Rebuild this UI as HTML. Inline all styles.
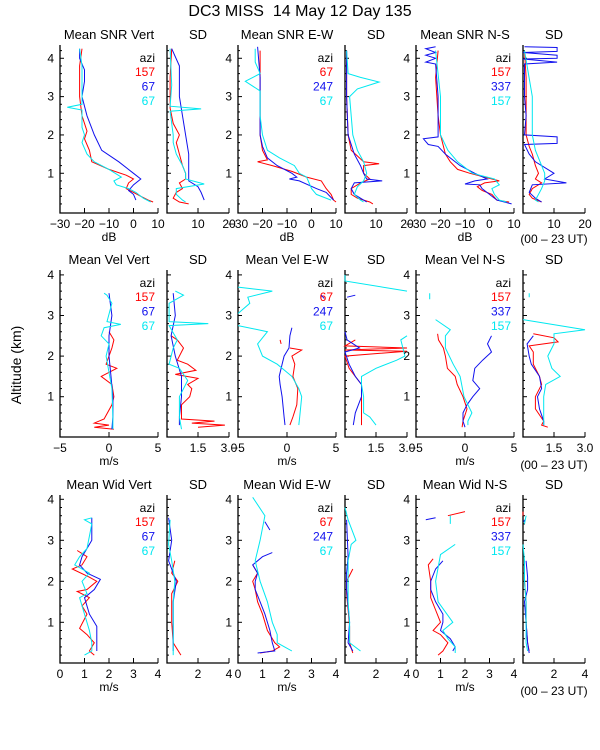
<!DOCTYPE html>
<html><head><meta charset="utf-8"><style>
html,body{margin:0;padding:0;background:#fff;}
svg{display:block;font-family:"Liberation Sans",sans-serif;}
#main-title{white-space:pre;}
</style></head><body>
<svg id="chart" width="600" height="750" viewBox="0 0 600 750">
<rect x="0" y="0" width="600" height="750" fill="#fff"/>
<text id="main-title" x="300" y="16" font-size="16" text-anchor="middle" xml:space="preserve">DC3 MISS  14 May 12 Day 135</text>
<text x="0" y="0" font-size="14" text-anchor="middle" transform="translate(21,365) rotate(-90)">Altitude (km)</text>
</svg>
<script>
// ---- data: [altitude km, value]; null breaks the line ----
const snrVertRed=[[4.25,-21],[3.8,-22],[3.0,-22],[2.5,-21],[2.1,-19],[1.9,-20],[1.6,-18],[1.3,-17],[1.1,-10],[0.95,-3],[0.85,0],[0.75,-2],[0.6,-3],[0.5,0],[0.4,3],[0.3,6],[0.25,8]];
const snrVertBlue=[[4.25,-22],[4.0,-22],[3.7,-20],[3.4,-20],[3.0,-21],[2.5,-19],[2.0,-16],[1.6,-13],[1.3,-6],[1.0,0],[0.85,3],[0.7,0],[0.55,-2],[0.45,0],[0.3,1]];
const snrVertCyan=[[4.25,-22],[3.8,-21],[3.2,-21],[2.8,-21],[2.72,-27],[2.65,-21],[2.2,-21],[2.0,-20],[1.8,-21],[1.5,-19],[1.3,-16],[1.1,-10],[0.9,-5],[0.8,-8],[0.7,-7],[0.6,-2],[0.5,1],[0.35,4],[0.25,7]];
const snrVertSdRed=[[4.25,1.5],[3.5,1],[2.7,1],[2.3,2],[2.0,4],[1.8,3],[1.5,4],[1.2,5],[1.0,6],[0.85,6],[0.75,4],[0.6,5],[0.5,3],[0.35,2],[0.25,4],[0.2,7]];
const snrVertSdBlue=[[4.25,1.5],[3.8,4],[3.0,4],[2.5,5],[2.0,6],[1.5,7],[1.0,7],[0.8,7],[0.65,10],[0.5,11],[0.3,12]];
const snrVertSdCyan=[[4.25,1],[3.3,1.5],[2.75,1],[2.68,11],[2.62,1],[2.0,2],[1.8,2],[1.5,3],[1.2,5],[1.0,6],[0.85,6],[0.72,12],[0.6,3],[0.45,3],[0.3,5],[0.25,6]];
const snrEwRed=[[4.2,-21],[3.5,-21],[2.5,-21],[2.0,-21],[1.6,-20],[1.35,-18],[1.3,-22],[1.2,-16],[1.05,-8],[0.9,-2],[0.8,4],[0.6,6],[0.45,8],[0.3,9],[0.25,10]];
const snrEwBlue=[[4.3,-22],[3.5,-21],[2.5,-21],[2.0,-21],[1.7,-20],[1.4,-18],[1.2,-14],[1.0,-8],[0.9,-6],[0.85,-9],[0.8,-5],[0.6,2],[0.5,6],[0.3,9]];
const snrEwCyan=[[4.25,-23],[3.9,-23],[3.6,-21],[3.4,-27],[3.15,-21],[2.5,-21],[2.0,-20],[1.6,-18],[1.4,-13],[1.2,-7],[1.0,-5],[0.9,-2],[0.6,0],[0.45,2],[0.3,8]];
const snrEwSdRed=[[4.2,0.5],[3.0,0.5],[2.0,1],[1.6,2],[1.3,6],[1.25,11],[1.2,6],[1.0,6],[0.85,8],[0.75,5],[0.6,2],[0.45,2],[0.35,4],[0.25,8],[0.2,9]];
const snrEwSdBlue=[[4.2,0.5],[3.0,0.5],[2.0,1],[1.5,3],[1.2,5],[1.0,6],[0.85,7],[0.8,12],[0.75,3],[0.6,2],[0.45,3],[0.3,6],[0.25,7]];
const snrEwSdCyan=[[4.2,0.5],[3.6,1],[3.5,5],[3.38,11],[3.2,4],[3.0,1.5],[2.5,2],[2.0,2.5],[1.6,4],[1.3,6],[1.0,7],[0.8,6],[0.65,4],[0.45,3],[0.3,5],[0.25,6]];
const snrNsRed=[[4.2,-21],[3.5,-22],[2.5,-21],[2.0,-20],[1.5,-18],[1.3,-16],[1.1,-13],[1.0,-8],[0.9,-2],[0.8,4],[0.75,-2],[0.65,-5],[0.55,-3],[0.45,1],[0.3,3],[0.25,8]];
const snrNsBlue=[[4.3,-22],[4.25,-26],[4.15,-22],[4.08,-26],[4.0,-22],[3.9,-26],[3.85,-22],[3.0,-21],[2.2,-21],[1.95,-21],[1.9,-27],[1.75,-25],[1.7,-21],[1.5,-18],[1.2,-12],[1.0,-6],[0.85,-1],[0.8,-6],[0.72,-10],[0.7,-4],[0.6,-3],[0.45,0],[0.3,3],[0.2,9]];
const snrNsCyan=[[4.2,-22],[3.0,-20],[2.0,-20],[1.6,-17],[1.3,-13],[1.0,-7],[0.85,2],[0.7,4],[0.6,1],[0.45,2],[0.3,4],[0.25,7]];
const snrNsSdRed=[[4.2,0.5],[3.5,1],[2.5,1],[2.0,1],[1.7,2],[1.5,3],[1.2,4],[1.0,5],[0.85,4],[0.75,6],[0.6,3],[0.45,2],[0.35,3],[0.25,6]];
const snrNsSdBlue=[[4.3,0.5],[4.28,11],[4.18,11],[4.15,0],[4.08,11],[4.0,11],[3.98,0],[3.9,11],[3.85,0.5],[3.0,0.5],[2.5,1],[2.0,0.5],[1.95,11],[1.78,11],[1.75,0.5],[1.5,2],[1.3,4],[1.1,8],[1.0,10],[0.85,7],[0.75,14],[0.7,3],[0.5,2],[0.35,4],[0.25,6]];
const snrNsSdCyan=[[4.2,0.5],[3.0,3],[2.0,3],[1.6,4],[1.2,6],[1.0,7],[0.8,7],[0.6,6],[0.45,5],[0.3,4],[0.25,5]];

const velVertRed=[[2.6,0],[2.4,0.5],[2.2,0.3],[2.0,0],[1.8,-0.3],[1.7,0.8],[1.5,-0.8],[1.3,0.3],[1.0,0.5],[0.8,0.3],[0.45,-0.5],[0.35,-1.5],[0.3,0],[0.25,-1.5],[0.2,0.5]];
const velVertBlue=[[3.55,0],[3.0,0.3],[2.5,0],[2.0,0],[1.5,0.2],[1.0,0.4],[0.5,0.4],[0.2,0.3]];
const velVertCyan=[[3.55,-0.5],[3.5,-0.2],[3.3,0.3],[2.85,-0.2],[2.78,1.2],[2.7,-0.5],[2.5,-0.8],[2.3,0],[2.0,-0.3],[1.6,0],[1.2,0.3],[0.5,0.4],[0.2,0.4]];
const velVertSdRed=[[2.5,0.2],[2.4,0.5],[2.2,0.8],[1.9,0.5],[1.8,1.0],[1.65,1.4],[1.55,0.4],[1.45,1.5],[1.3,1.0],[1.2,1.2],[1.0,1.1],[0.8,0.7],[0.45,0.7],[0.4,2.3],[0.35,1.2],[0.3,2.8],[0.25,1.5]];
const velVertSdBlue=[[3.55,0.3],[3.0,0.4],[2.5,0.2],[2.0,0.4],[1.5,0.7],[1.2,0.7],[1.0,0.7],[0.5,0.6],[0.3,0.6]];
const velVertSdCyan=[[3.6,0.4],[3.5,0.8],[3.3,0.1],[2.85,0.1],[2.8,2.0],[2.75,0.1],[2.4,0.5],[2.2,0.3],[1.8,0.1],[1.7,0.6],[1.4,1.0],[1.0,0.6],[0.5,0.6],[0.2,0.7]];
const velEwRed=[[2.4,-0.7],[2.3,-0.6],null,[2.2,0.3],[2.15,1.5],[2.0,0.5],[1.8,0.8],[1.5,0.6],[1.2,1.1],[0.8,1.0],[0.5,0.6],[0.3,0.3]];
const velEwBlue=[[3.5,3.5],[3.42,3.8],null,[2.7,0.5],[2.5,0.3],[2.2,0.2],[2.0,-0.3],[1.8,-0.5],[1.5,-0.8],[1.3,-0.7],[1.0,-0.5],[0.5,-0.3],[0.3,-0.2]];
const velEwCyan=[[3.7,-5],[3.6,-1.5],[3.45,-4],[3.3,-3.8],[3.05,-5],null,[2.75,-5],[2.6,-2],[2.3,-3],[2.0,-2.5],[1.8,-1],[1.5,0.5],[1.2,1.2],[1.0,1.5],[0.5,1.3],[0.3,1.2]];
const velEwSdRed=[[2.4,0.5],[2.25,0],[2.2,3.0],[2.15,0],[2.12,3.0],[2.0,0],[1.7,0.2],[1.5,0.5],[1.3,0.8],[1.0,0.8],[0.6,0.8],[0.4,0.8],[0.3,0.8]];
const velEwSdBlue=[[3.5,0.5],[3.45,0.1],null,[2.6,0],[2.4,0.1],[2.2,0.7],[2.1,0.0],[1.8,0.2],[1.5,0.5],[1.3,0.8],[1.0,0.8],[0.6,0.5],[0.3,0.4]];
const velEwSdCyan=[[4.0,0],[3.85,0],[3.6,3.0],null,[2.5,3.0],[2.4,2.7],[2.2,2.8],[2.0,2.9],[1.9,2.5],[1.7,1.5],[1.5,0.8],[1.3,0.8],[1.0,0.9],[0.6,0.9],[0.5,1.2],[0.3,1.5]];
const velNsRed=[[2.55,-2.8],[2.4,-2.7],[2.2,-2.2],[2.0,-2.0],[1.7,-1.8],[1.5,-1.0],[1.3,-0.8],[1.0,-0.2],[0.7,0.2],[0.4,-0.2],[0.25,-0.3]];
const velNsBlue=[[2.5,2.7],[2.3,2.3],[2.1,2.7],[1.9,1.8],[1.7,1.0],[1.4,0.8],[1.2,1.5],[1.0,0.8],[0.8,0.2],[0.6,-0.2],[0.4,-0.2],[0.25,0]];
const velNsCyan=[[3.55,-3.6],[3.4,-3.6],null,[2.9,-3.0],[2.65,-1.5],[2.5,-2.0],[2.2,-2.0],[1.8,-1.2],[1.5,-0.5],[1.0,-0.1],[0.6,0.7],[0.4,0.3],[0.3,0.3]];
const velNsSdRed=[[2.55,0.5],[2.45,1.5],[2.35,1.7],[2.25,0.3],[2.1,0.5],[1.8,0.5],[1.5,0.8],[1.3,0.9],[1.0,0.6],[0.7,0.6],[0.4,1.0],[0.3,0.9],[0.25,1.2]];
const velNsSdBlue=[[2.5,0.5],[2.3,0.2],[2.0,0.3],[1.8,0.4],[1.5,0.8],[1.2,0.9],[1.0,0.7],[0.7,0.8],[0.4,1.0],[0.3,1.0]];
const velNsSdCyan=[[3.55,0.3],[3.45,0.3],null,[2.9,0],[2.65,3.0],[2.55,1.5],[2.3,1.5],[2.0,1.2],[1.7,1.4],[1.5,1.8],[1.3,1.1],[1.0,1.0],[0.6,1.0],[0.3,1.0]];

const widVertRed=[[2.75,0.7],[2.6,1.1],[2.4,0.9],[2.3,0.5],[2.1,1.2],[2.0,1.5],[1.8,1.1],[1.75,0.7],[1.6,1.2],[1.4,0.9],[1.2,1.1],[0.85,0.8],[0.7,1.1],[0.5,1.4],[0.3,1.2],[0.2,1.4]];
const widVertBlue=[[3.55,1.3],[3.0,1.3],[2.8,1.1],[2.6,0.9],[2.4,0.8],[2.2,1.1],[2.05,1.65],[1.8,1.4],[1.6,1.0],[1.2,1.2],[0.9,1.5],[0.3,1.5]];
const widVertCyan=[[3.55,1.3],[3.5,1.0],[3.4,1.3],[2.8,1.1],[2.6,0.8],[2.4,0.6],[2.2,1.2],[2.0,0.9],[1.7,1.1],[1.6,0.8],[1.2,1.0],[0.8,1.2],[0.5,1.3],[0.3,1.3],[0.2,1.0]];
const widVertSdRed=[[2.5,0.5],[2.2,0.3],[2.0,0.7],[1.7,0.3],[1.0,0.3],[0.5,0.4],[0.2,0.9]];
const widVertSdBlue=[[3.55,0.1],[3.0,0.3],[2.5,0.1],[2.0,0.6],[1.5,0.4],[1.0,0.4],[0.5,0.4],[0.3,0.4]];
const widVertSdCyan=[[3.5,0.2],[2.9,0.1],[2.5,0.3],[2.0,0.5],[1.5,0.4],[1.0,0.4],[0.5,0.4],[0.2,0.4]];
const widEwRed=[[2.4,0.6],[2.2,0.8],[2.0,0.6],[1.8,0.7],[1.5,0.8],[1.2,1.0],[0.8,1.2],[0.5,1.5],[0.4,1.7],[0.3,1.4],[0.25,0.9]];
const widEwBlue=[[3.45,1.1],[3.25,1.3],null,[2.7,1.4],[2.6,1.0],[2.4,0.6],[2.2,0.8],[2.0,0.7],[1.8,0.7],[1.5,0.9],[1.2,1.1],[0.8,1.3],[0.5,1.4],[0.3,1.5],[0.25,0.8]];
const widEwCyan=[[4.05,0.6],[3.6,1.1],[3.0,0.9],[2.5,0.7],[2.0,0.9],[1.5,1.2],[1.0,1.4],[0.7,1.6],[0.5,1.6],[0.4,1.9],[0.3,2.2]];
const widEwSdRed=[[2.3,0.5],[2.0,0.1],[1.7,0.1],[1.3,0.2],[0.9,0.3],[0.5,0.3],[0.25,0.5]];
const widEwSdBlue=[[3.5,0.1],[2.6,0.2],[2.2,0.1],[1.8,0.1],[1.4,0.2],[1.0,0.3],[0.5,0.2],[0.3,0.5]];
const widEwSdCyan=[[3.8,0.0],[3.5,0.2],[3.0,0.7],[2.9,0.4],[2.5,0.2],[2.0,0.2],[1.5,0.2],[1.0,0.3],[0.5,0.3],[0.3,1.0]];
const widNsRed=[[3.6,1.3],[3.7,2.0],null,[2.55,0.7],[2.4,0.5],[2.0,0.6],[1.6,0.6],[1.3,0.8],[1.0,1.0],[0.8,0.7],[0.7,1.0],[0.5,1.3],[0.3,1.1],[0.2,0.9]];
const widNsBlue=[[3.5,0.4],[3.55,0.8],null,[2.5,1.1],[2.3,0.8],[2.0,0.6],[1.8,0.6],[1.5,0.8],[1.2,1.1],[1.0,1.1],[0.8,1.0],[0.6,1.4],[0.4,1.6],[0.3,1.5]];
const widNsCyan=[[3.6,1.4],[3.4,1.4],null,[2.9,1.6],[2.65,1.0],[2.0,0.8],[1.5,0.9],[1.0,1.5],[0.8,1.1],[0.6,1.3],[0.4,1.6],[0.25,1.6]];
const widNsSdRed=[[3.7,0.0],[3.6,0.0],null,[2.5,0.1],[2.0,0.1],[1.5,0.2],[1.0,0.2],[0.5,0.3],[0.3,0.4]];
const widNsSdBlue=[[3.5,0.1],[3.45,0.05],null,[2.5,0.2],[2.1,0.3],[1.8,0.3],[1.5,0.1],[1.0,0.2],[0.5,0.3],[0.25,0.4]];
const widNsSdCyan=[[3.6,0.2],[3.4,0.1],null,[2.9,0.0],[2.5,0.1],[2.0,0.1],[1.5,0.2],[1.0,0.2],[0.5,0.2],[0.3,0.3]];

const panelTitles=[["Mean SNR Vert","SD","Mean SNR E-W","SD","Mean SNR N-S","SD"],
 ["Mean Vel Vert","SD","Mean Vel E-W","SD","Mean Vel N-S","SD"],
 ["Mean Wid Vert","SD","Mean Wid E-W","SD","Mean Wid N-S","SD"]];
const aziLabels=[["157","67","67"],["67","247","67"],["157","337","157"]];
const mainTicks=[[-30,-20,-10,0,10],[-5,0,5],[0,1,2,3,4]];
const sdTicks=[[10,20],[1.5,3.0],[2,4]];
const units=["dB","m/s","m/s"];
const yTicks=[1,2,3,4];

const rowData=[
 [[snrVertRed,snrVertBlue,snrVertCyan],[snrVertSdRed,snrVertSdBlue,snrVertSdCyan],[snrEwRed,snrEwBlue,snrEwCyan],[snrEwSdRed,snrEwSdBlue,snrEwSdCyan],[snrNsRed,snrNsBlue,snrNsCyan],[snrNsSdRed,snrNsSdBlue,snrNsSdCyan]],
 [[velVertRed,velVertBlue,velVertCyan],[velVertSdRed,velVertSdBlue,velVertSdCyan],[velEwRed,velEwBlue,velEwCyan],[velEwSdRed,velEwSdBlue,velEwSdCyan],[velNsRed,velNsBlue,velNsCyan],[velNsSdRed,velNsSdBlue,velNsSdCyan]],
 [[widVertRed,widVertBlue,widVertCyan],[widVertSdRed,widVertSdBlue,widVertSdCyan],[widEwRed,widEwBlue,widEwCyan],[widEwSdRed,widEwSdBlue,widEwSdCyan],[widNsRed,widNsBlue,widNsCyan],[widNsSdRed,widNsSdBlue,widNsSdCyan]]
];

// ---- layout ----
const NS="http://www.w3.org/2000/svg";
const svg=document.getElementById('chart');
const colors=["#ff0000","#1010ee","#00e8f0"];
const panelX=[[60,158],[167,229],[238,336],[345,407],[416,514],[523,585]];
const rows=[{top:45,bot:213,y0:211.6,k:38.33,mainDom:[-30,10],sdDom:[0,20]},
 {top:270,bot:437,y0:437.3,k:40.6,mainDom:[-5,5],sdDom:[0,3]},
 {top:495,bot:663,y0:663.3,k:41,mainDom:[0,4],sdDom:[0,4]}];
const rowNames=["snr","vel","wid"];
const colNames=["vert-mean","vert-sd","ew-mean","ew-sd","ns-mean","ns-sd"];
const serNames=["red","blue","cyan"];

function el(tag,attrs,parent){const e=document.createElementNS(NS,tag);for(const k in attrs)e.setAttribute(k,attrs[k]);(parent||svg).appendChild(e);return e;}
function txt(s,x,y,attrs,parent){const t=el('text',Object.assign({x:x,y:y,'font-size':12},attrs),parent);t.textContent=s;return t;}

rows.forEach((r,ri)=>{
  const yScale=h=>r.y0-h*r.k;
  panelX.forEach((px,ci)=>{
    const g=el('g',{});
    
    
    const isSd=ci%2===1;
    const dom=isSd?r.sdDom:r.mainDom;
    const xScale=v=>px[0]+(v-dom[0])/(dom[1]-dom[0])*(px[1]-px[0]);
    const ax=el('path',{d:`M${px[0]},${r.top}V${r.bot}H${px[1]}`,stroke:'#000','stroke-width':1.3,fill:'none'},g);
    
    
    for(let h=0.2;h<4.4;h+=0.2){const y=yScale(h);if(y<r.top)break;
      const major=Math.abs(h-Math.round(h))<0.01;
      el('line',{x1:px[0],x2:px[0]+(major?4:2),y1:y,y2:y,stroke:'#000','stroke-width':1},g);}
    if(ci%2===0){yTicks.forEach(t=>{const lb=txt(String(t),px[0]-6,yScale(t)+4,{'text-anchor':'end'},g);
      
      });}
    const ticks=isSd?[dom[0]].concat(sdTicks[ri]):mainTicks[ri];
    ticks.forEach(t=>{const x=xScale(t);el('line',{x1:x,x2:x,y1:r.bot,y2:r.bot-5,stroke:'#000','stroke-width':1},g);});
    (isSd?sdTicks[ri]:mainTicks[ri]).forEach(t=>{
      const s=(isSd&&ri===1)?t.toFixed(1):String(t).replace('-','\u2212');
      const lb=txt(s,xScale(t),r.bot+15,{'text-anchor':'middle'},g);
      
      });
    const tt=txt(panelTitles[ri][ci],(px[0]+px[1])/2,r.top-6,{'text-anchor':'middle','font-size':13},g);
    
    
    if(!isSd){
      const u=txt(units[ri],(px[0]+px[1])/2,r.bot+28,{'text-anchor':'middle'},g);
      
      
      const a=txt('azi',px[1]-3,r.top+17,{'text-anchor':'end'},g);
      
      
      aziLabels[ci/2].forEach((s,si)=>{const l=txt(s,px[1]-3,r.top+31+si*14.5,{'text-anchor':'end',fill:colors[si]},g);
        
        });
    }
    rowData[ri][ci].forEach((ser,si)=>{
      let d='',pen=false;
      ser.forEach(p=>{if(!p){pen=false;return;}d+=(pen?'L':'M')+xScale(p[1]).toFixed(1)+','+yScale(p[0]).toFixed(1);pen=true;});
      const ln=el('path',{d:d,stroke:colors[si],'stroke-width':1,fill:'none'},g);
      
      
    });
  });
  const ut=txt('(00 \u2013 23 UT)',554,r.bot+(ri===0?30:32),{'text-anchor':'middle'});
  
  
});
</script>
</body></html>
